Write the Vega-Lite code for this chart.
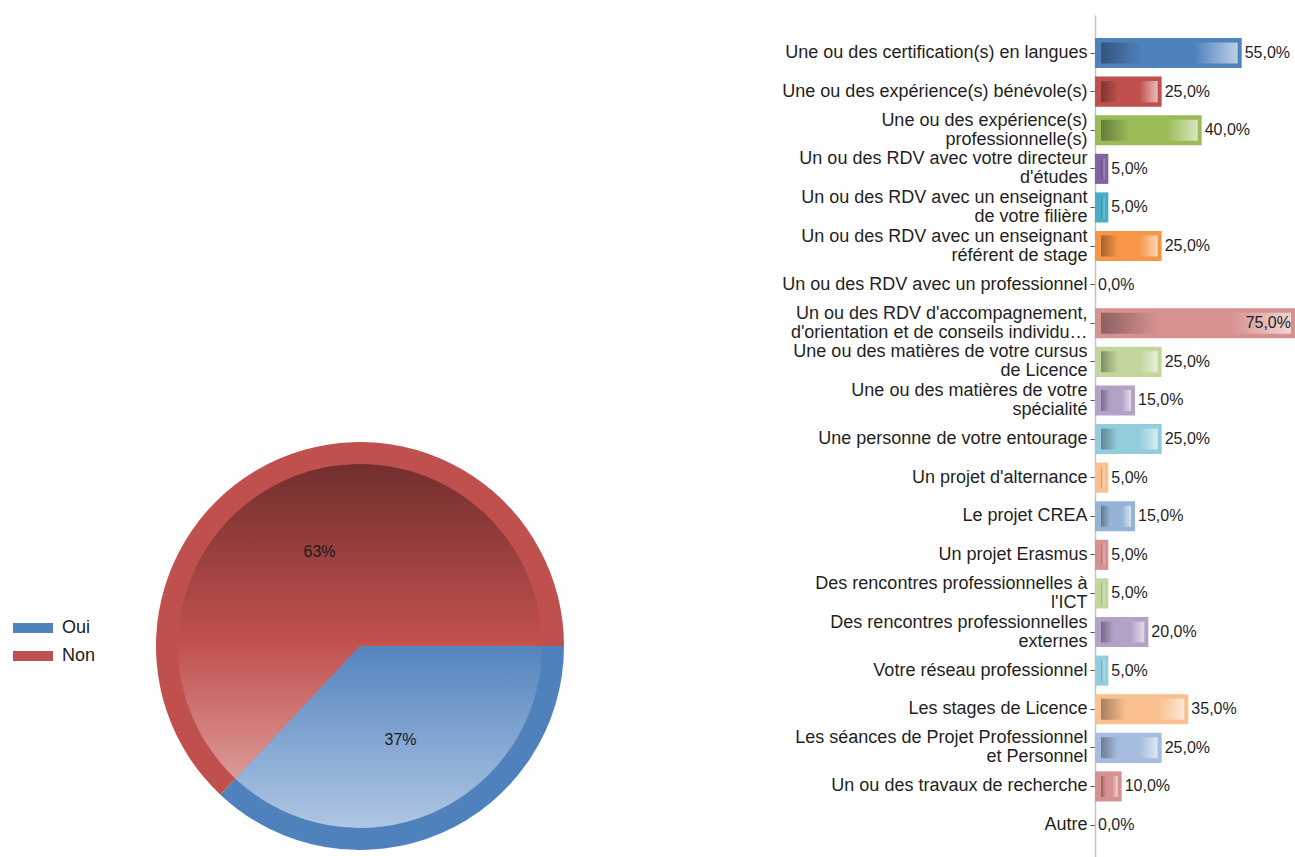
{
  "$schema": "https://vega.github.io/schema/vega-lite/v6.json",
  "padding": {"left": 0, "top": 15, "right": 0, "bottom": 0},
  "background": "white",
  "config": {
    "view": {"stroke": null},
    "font": "Liberation Sans",
    "locale": {"number": {"decimal": ",", "thousands": "\u00a0", "grouping": [3], "currency": ["", "\u00a0€"]}}
  },
  "bounds": "flush",
  "spacing": 1095,
  "resolve": {"scale": {"color": "independent"}, "legend": {"color": "independent"}},
  "hconcat": [
    {
      "bounds": "flush",
      "spacing": 0,
      "vconcat": [
        {
          "width": 720,
          "height": 421,
          "data": {"values": []},
          "mark": {"type": "rect"},
          "encoding": {}
        },
        {
          "width": 720,
          "height": 420,
          "data": {"values": [{"ans": "Oui", "v": 0.37}, {"ans": "Non", "v": 0.63}]},
          "encoding": {
            "theta": {"field": "v", "type": "quantitative", "stack": true, "scale": {"domain": [0, 1], "range": [1.5708, 7.854]}},
            "order": {"field": "ans", "sort": "descending"}
          },
          "layer": [
            {
              "mark": {"type": "arc", "outerRadius": 204},
              "encoding": {
                "color": {
                  "field": "ans", "type": "nominal",
                  "scale": {"domain": ["Oui", "Non"], "range": ["#4F81BD", "#C0504D"]},
                  "legend": {
                    "title": null, "orient": "none", "legendX": 24, "legendY": 604, "padding": 0,
                    "symbolType": "M-2.5,-0.625H2.5V0.625H-2.5Z", "symbolSize": 256,
                    "symbolStrokeWidth": 0, "symbolOpacity": 1,
                    "labelFontSize": 18, "labelColor": "#1a1a1a", "labelOffset": 20, "rowPadding": 10
                  }
                }
              }
            },
            {
              "mark": {"type": "arc", "outerRadius": 182,
                "fill": {"gradient": "linear", "x1": 0, "y1": 0, "x2": 0, "y2": 1,
                  "stops": [{"offset": 0, "color": "#722F2E"}, {"offset": 0.56, "color": "#C0504D"}, {"offset": 1, "color": "#DB9997"}]}},
              "encoding": {
                "detail": {"field": "ans"},
                "opacity": {"condition": {"test": "datum.ans === 'Non'", "value": 1}, "value": 0}
              }
            },
            {
              "mark": {"type": "arc", "outerRadius": 182,
                "fill": {"gradient": "linear", "x1": 0, "y1": 0, "x2": 0, "y2": 1,
                  "stops": [{"offset": 0, "color": "#5484BF"}, {"offset": 1, "color": "#AFC6E3"}]}},
              "encoding": {
                "detail": {"field": "ans"},
                "opacity": {"condition": {"test": "datum.ans === 'Oui'", "value": 1}, "value": 0}
              }
            },
            {
              "mark": {"type": "text", "radius": 102, "fontSize": 16, "color": "#1a1a1a"},
              "encoding": {"detail": {"field": "ans"}, "text": {"field": "v", "type": "quantitative", "format": ".0%"}}
            }
          ]
        }
      ]
    },
    {
      "width": 200,
      "height": 842,
      "data": {"values": [
        {"cat": "Une ou des certification(s) en langues", "v": 0.55},
        {"cat": "Une ou des expérience(s) bénévole(s)", "v": 0.25},
        {"cat": "Une ou des expérience(s)\nprofessionnelle(s)", "v": 0.40},
        {"cat": "Un ou des RDV avec votre directeur\nd'études", "v": 0.05},
        {"cat": "Un ou des RDV avec un enseignant\nde votre filière", "v": 0.05},
        {"cat": "Un ou des RDV avec un enseignant\nréférent de stage", "v": 0.25},
        {"cat": "Un ou des RDV avec un professionnel", "v": 0},
        {"cat": "Un ou des RDV d'accompagnement,\nd'orientation et de conseils individu…", "v": 0.75},
        {"cat": "Une ou des matières de votre cursus\nde Licence", "v": 0.25},
        {"cat": "Une ou des matières de votre\nspécialité", "v": 0.15},
        {"cat": "Une personne de votre entourage", "v": 0.25},
        {"cat": "Un projet d'alternance", "v": 0.05},
        {"cat": "Le projet CREA", "v": 0.15},
        {"cat": "Un projet Erasmus", "v": 0.05},
        {"cat": "Des rencontres professionnelles à\nl'ICT", "v": 0.05},
        {"cat": "Des rencontres professionnelles\nexternes", "v": 0.20},
        {"cat": "Votre réseau professionnel", "v": 0.05},
        {"cat": "Les stages de Licence", "v": 0.35},
        {"cat": "Les séances de Projet Professionnel\net Personnel", "v": 0.25},
        {"cat": "Un ou des travaux de recherche", "v": 0.10},
        {"cat": "Autre", "v": 0}
      ]},
      "encoding": {
        "y": {
          "field": "cat", "type": "nominal", "sort": null,
          "scale": {
            "domain": [
              "Une ou des certification(s) en langues",
              "Une ou des expérience(s) bénévole(s)",
              "Une ou des expérience(s)\nprofessionnelle(s)",
              "Un ou des RDV avec votre directeur\nd'études",
              "Un ou des RDV avec un enseignant\nde votre filière",
              "Un ou des RDV avec un enseignant\nréférent de stage",
              "Un ou des RDV avec un professionnel",
              "Un ou des RDV d'accompagnement,\nd'orientation et de conseils individu…",
              "Une ou des matières de votre cursus\nde Licence",
              "Une ou des matières de votre\nspécialité",
              "Une personne de votre entourage",
              "Un projet d'alternance",
              "Le projet CREA",
              "Un projet Erasmus",
              "Des rencontres professionnelles à\nl'ICT",
              "Des rencontres professionnelles\nexternes",
              "Votre réseau professionnel",
              "Les stages de Licence",
              "Les séances de Projet Professionnel\net Personnel",
              "Un ou des travaux de recherche",
              "Autre"
            ],
            "paddingInner": 0.22, "paddingOuter": 0.517, "align": 0.576
          },
          "axis": {
            "title": null,
            "labelExpr": "split(datum.value, '\\n')",
            "labelFontSize": 18, "labelColor": "#1f1f1f", "labelLimit": 400, "labelPadding": 3,
            "labelLineHeight": 19,
            "labelOffset": {"condition": {"test": "indexof(datum.value, '\\n') >= 0", "value": -9.5}, "value": 0},
            "tickSize": 5, "tickColor": "#555555", "domainColor": "#c4c4c4", "domainWidth": 1.5
          }
        },
        "x": {"field": "v", "type": "quantitative", "scale": {"domain": [0, 0.75]}, "axis": null}
      },
      "layer": [
        {
          "mark": {"type": "bar"},
          "encoding": {
            "color": {
              "field": "cat", "type": "nominal", "legend": null,
              "scale": {
                "domain": [
                  "Une ou des certification(s) en langues",
                  "Une ou des expérience(s) bénévole(s)",
                  "Une ou des expérience(s)\nprofessionnelle(s)",
                  "Un ou des RDV avec votre directeur\nd'études",
                  "Un ou des RDV avec un enseignant\nde votre filière",
                  "Un ou des RDV avec un enseignant\nréférent de stage",
                  "Un ou des RDV avec un professionnel",
                  "Un ou des RDV d'accompagnement,\nd'orientation et de conseils individu…",
                  "Une ou des matières de votre cursus\nde Licence",
                  "Une ou des matières de votre\nspécialité",
                  "Une personne de votre entourage",
                  "Un projet d'alternance",
                  "Le projet CREA",
                  "Un projet Erasmus",
                  "Des rencontres professionnelles à\nl'ICT",
                  "Des rencontres professionnelles\nexternes",
                  "Votre réseau professionnel",
                  "Les stages de Licence",
                  "Les séances de Projet Professionnel\net Personnel",
                  "Un ou des travaux de recherche",
                  "Autre"
                ],
                "range": ["#4F81BD", "#C0504D", "#9BBB59", "#8064A2", "#4BACC6", "#F79646", "#95B3D7",
                          "#D69290", "#C3D69B", "#B3A2C7", "#93CDDD", "#FAC090", "#95B3D7", "#D69290",
                          "#C3D69B", "#B3A2C7", "#93CDDD", "#FAC090", "#A6BDDF", "#D69290", "#C3D69B"]
              }
            }
          }
        },
        {
          "transform": [{"filter": "datum.v > 0"}],
          "mark": {
            "type": "bar", "height": {"band": 0.7}, "xOffset": -4, "x2Offset": 6,
            "fill": {"gradient": "linear", "x1": 0, "y1": 0, "x2": 1, "y2": 0,
              "stops": [
                {"offset": 0, "color": "rgba(0,0,0,0.34)"},
                {"offset": 0.3, "color": "rgba(0,0,0,0)"},
                {"offset": 0.68, "color": "rgba(255,255,255,0)"},
                {"offset": 1, "color": "rgba(255,255,255,0.62)"}
              ]}
          },
          "encoding": {"x2": {"datum": 0}}
        },
        {
          "transform": [{"filter": "datum.v < 0.7"}],
          "mark": {"type": "text", "align": "left", "baseline": "middle", "dx": 3, "fontSize": 16, "color": "#1f1f1f"},
          "encoding": {"text": {"field": "v", "type": "quantitative", "format": ".1%"}}
        },
        {
          "transform": [{"filter": "datum.v >= 0.7"}],
          "mark": {"type": "text", "align": "right", "baseline": "middle", "dx": -4, "fontSize": 16, "color": "#1f1f1f"},
          "encoding": {"text": {"field": "v", "type": "quantitative", "format": ".1%"}}
        }
      ]
    }
  ]
}
